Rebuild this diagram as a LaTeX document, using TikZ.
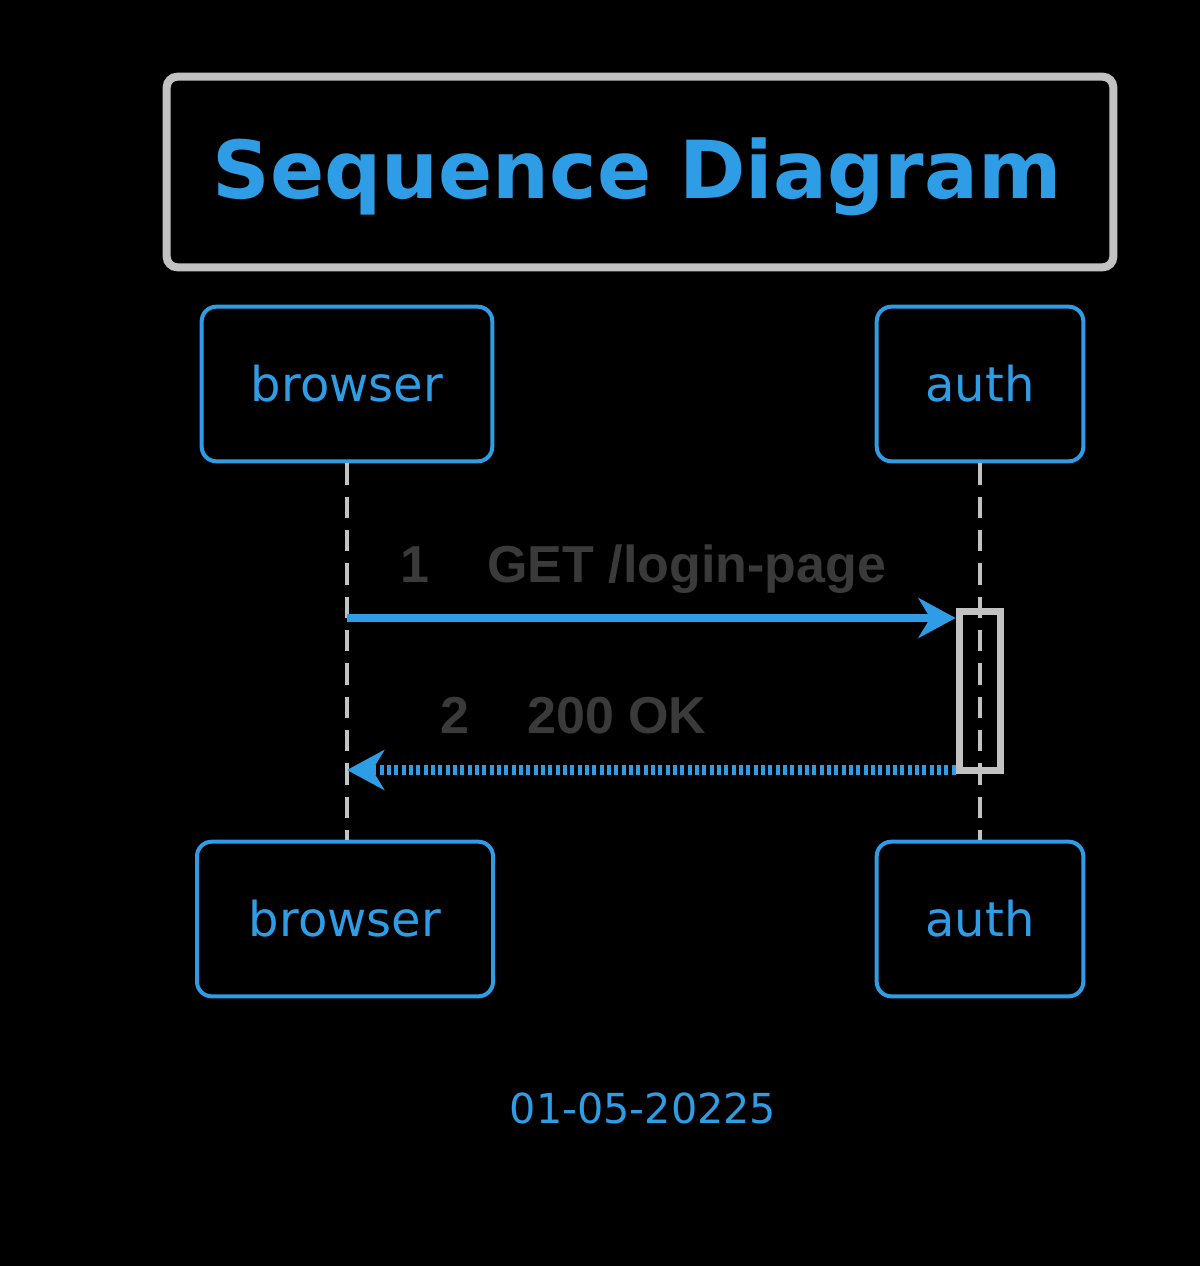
\documentclass[tikz,border=0pt]{standalone}
\usepackage{fontspec}
\setmainfont{DejaVu Sans}
\newfontfamily\msgfont{Liberation Sans}
\usetikzlibrary{arrows.meta}
\definecolor{seqblue}{HTML}{2E9DE6}
\definecolor{seqgray}{HTML}{C2C2C2}
\definecolor{seqtext}{HTML}{3A3A3A}
\tikzset{
  x=0.75pt, y=-0.75pt,
  partbox/.style={draw=seqblue, line width=3pt, rounded corners=11pt, inner sep=0pt,
     font=\fontsize{36}{40}\selectfont, text=seqblue, minimum height=116pt},
  lifeline/.style={draw=seqgray, line width=2.4pt, dash pattern=on 16pt off 9pt},
  msglabel/.style={font=\msgfont\bfseries\fontsize{39}{42}\selectfont, text=seqtext, inner sep=0pt, anchor=base west},
}
\begin{document}
\begin{tikzpicture}
\fill[black] (0,0) rectangle (1200,1266);
\useasboundingbox (0,0) rectangle (1200,1266);
% title
\node[draw=seqgray, line width=6pt, rounded corners=8pt, minimum width=710pt, minimum height=143pt, inner sep=0pt] (title) at (640,172) {};
\node[font=\bfseries\fontsize{60}{64}\selectfont, text=seqblue, inner sep=0pt] (titletext) at (637,177) {Sequence Diagram};
% participants
\node[partbox, minimum width=218pt] (bt) at (347,384) {browser};
\node[partbox, minimum width=155pt] (at) at (980,384) {auth};
\node[partbox, minimum width=222pt] (bb) at (345,919) {browser};
\node[partbox, minimum width=155pt] (ab) at (980,919) {auth};
% lifelines
\draw[lifeline] (bt.south) -- (bt.south |- bb.north);
\draw[lifeline] (at.south) -- (at.south |- ab.north);
% activation
\node[draw=seqgray, line width=5.5pt, minimum width=31pt, minimum height=119pt, inner sep=0pt] (act) at (980,691) {};
% message coordinates
\coordinate (m1s) at (347,618);
\coordinate (m2e) at (347,770);
% messages
\draw[seqblue, line width=6pt, -{Stealth[length=28pt, width=30pt, inset=9pt]}] (m1s) -- (act.west |- m1s);
\draw[seqblue, line width=8pt, dash pattern=on 3pt off 2.5pt, -{Stealth[length=28pt, width=30pt, inset=9pt]}] (act.west |- m2e) -- (m2e);
% labels
\node[msglabel] (n1) at (400,582) {1};
\node[msglabel] (l1) at (487,582) {GET /login-page};
\node[msglabel] (n2) at (440,733) {2};
\node[msglabel] (l2) at (527,733) {200 OK};
% date
\node[font=\fontsize{31}{34}\selectfont, text=seqblue] (date) at (643,1108) {01-05-20225};
\end{tikzpicture}
\end{document}
